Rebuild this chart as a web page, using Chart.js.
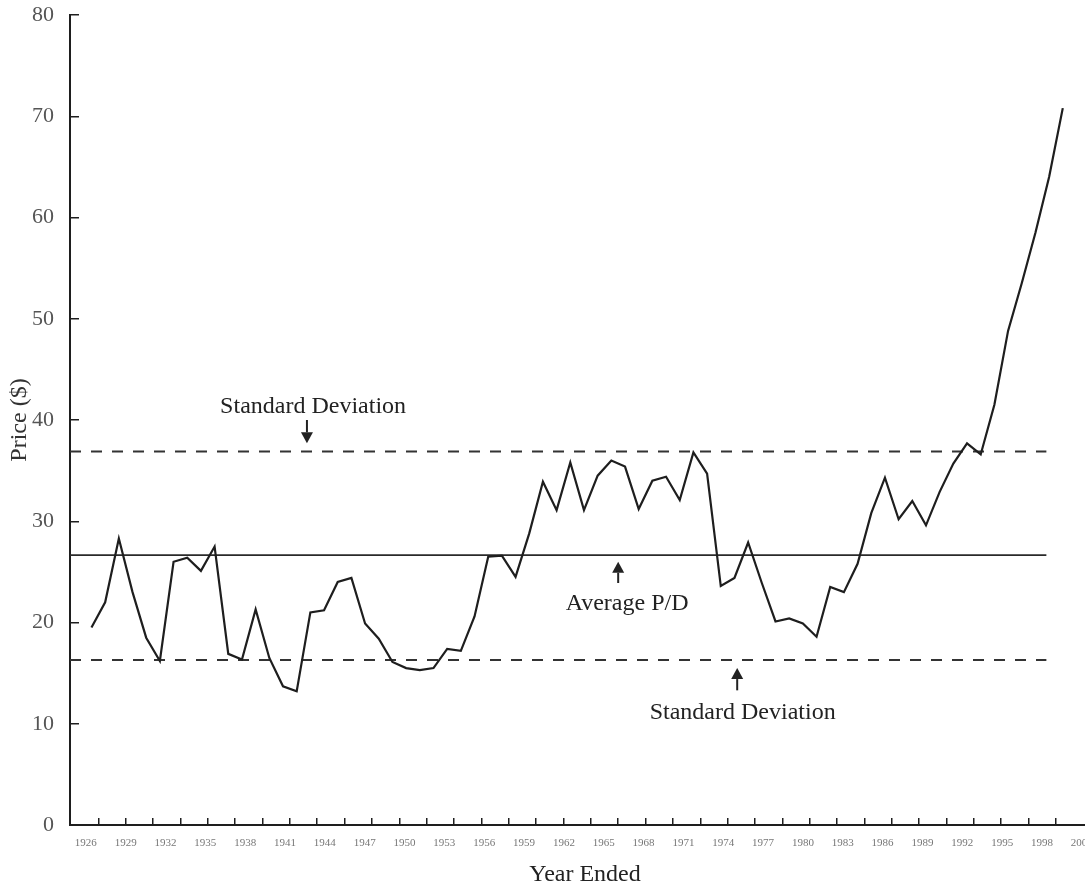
<!DOCTYPE html>
<html>
<head>
<meta charset="utf-8">
<title>Price / Dividend</title>
<script src="https://cdn.jsdelivr.net/npm/chart.js@4.4.1/dist/chart.umd.min.js"></script>
<style>
  html, body { margin:0; padding:0; overflow:hidden; background:#fff; }
  canvas { display:block; }
</style>
</head>
<body>
<canvas id="pd-canvas" width="1110" height="887"></canvas>
<script>
//----- chart values -----//
const firstYear = 1926;
const pdValues = [
  19.5, 22.0, 28.3, 23.0, 18.5, 16.2, 26.0, 26.4, 25.1, 27.5,   // 1926-1935
  16.9, 16.35,21.3, 16.5, 13.7, 13.2, 21.0, 21.2, 24.0, 24.4,   // 1936-1945
  19.9, 18.4, 16.1, 15.5, 15.3, 15.5, 17.4, 17.2, 20.6, 26.5,   // 1946-1955
  26.6, 24.5, 28.8, 33.9, 31.1, 35.8, 31.1, 34.5, 36.0, 35.4,   // 1956-1965
  31.2, 34.0, 34.4, 32.1, 36.8, 34.7, 23.6, 24.4, 27.9, 23.9,   // 1966-1975
  20.1, 20.4, 19.9, 18.6, 23.5, 23.0, 25.8, 30.8, 34.3, 30.2,   // 1976-1985
  32.0, 29.6, 32.9, 35.7, 37.7, 36.6, 41.5, 48.8, 53.5, 58.5,   // 1986-1995
  64.0, 70.8                                                    // 1996-1997
];
let years = [];
for(let i=0;i<pdValues.length;i++){
  years[i] = firstYear+i;
}
//labels printed under the axis (every 3 years)
const labelYears = [1926,1929,1932,1935,1938,1941,1944,1947,1950,1953,1956,1959,1962,
                    1965,1968,1971,1974,1977,1980,1983,1986,1989,1992,1995,1998,2001];
//small tick marks on the axis (every 2 years)
let markYears = [];
for(let i=0;i<36;i++){
  markYears[i] = 1926.5+2*i;
}
const yTicks = [0,10,20,30,40,50,60,70,80];
//reference lines
const averagePD  = 26.65;
const upperSD    = 36.9;
const lowerSD    = 16.3;
const refLineEnd = 1995.8;

//----- scale ranges -----//
const xMin = 1924.43, xMax = 1999.72;       // data axis
const lMin = 1924.81, lMax = 2002.37;       // label axis

const serif = "'Liberation Serif', 'Times New Roman', serif";
const ink   = '#1e1e1e';

let points = years.map((yr,i)=>({x:yr, y:pdValues[i]}));
function flatLine(v){
  return [{x:xMin, y:v}, {x:refLineEnd, y:v}];
}

//----- notes with arrows -----//
const notes = [
  {text:'Standard Deviation', tx:1942.2,  ty:40.7,  ax:1941.75, tail:40.0, tip:37.7},
  {text:'Average P/D',        tx:1965.15, ty:21.23, ax:1964.5,  tail:23.9, tip:26.0},
  {text:'Standard Deviation', tx:1973.6,  ty:10.47, ax:1973.2,  tail:13.3, tip:15.5}
];

const notePlugin = {
  id:'notes',
  afterDatasetsDraw(chart){
    const ctx = chart.ctx;
    const xs = chart.scales.x, ys = chart.scales.y;
    ctx.save();
    ctx.fillStyle = '#222';
    ctx.strokeStyle = '#222';
    ctx.font = '24px '+serif;
    ctx.textAlign = 'center';
    ctx.textBaseline = 'alphabetic';
    notes.forEach(n=>{
      ctx.fillText(n.text, xs.getPixelForValue(n.tx), ys.getPixelForValue(n.ty));
      //arrow
      let x  = xs.getPixelForValue(n.ax);
      let y0 = ys.getPixelForValue(n.tail);
      let y1 = ys.getPixelForValue(n.tip);
      let dir = y1>y0 ? 1 : -1;
      let head = 11;
      ctx.lineWidth = 2;
      ctx.beginPath();
      ctx.moveTo(x, y0);
      ctx.lineTo(x, y1-dir*head);
      ctx.stroke();
      ctx.beginPath();
      ctx.moveTo(x-6, y1-dir*head);
      ctx.lineTo(x+6, y1-dir*head);
      ctx.lineTo(x, y1);
      ctx.closePath();
      ctx.fill();
    });
    ctx.restore();
  }
};

//----- Create chart -----//
let canvas = document.getElementById('pd-canvas');
let pdChart = new Chart(canvas, {
  type:'line',
  data:{
    datasets:[
      {data:points, xAxisID:'x', yAxisID:'y', borderColor:ink, borderWidth:2.2, pointRadius:0, tension:0, fill:false},
      {data:flatLine(averagePD), xAxisID:'x', yAxisID:'y', borderColor:'#2a2a2a', borderWidth:1.6, pointRadius:0, fill:false},
      {data:flatLine(upperSD), xAxisID:'x', yAxisID:'y', borderColor:'#333', borderWidth:2, borderDash:[11,10], pointRadius:0, fill:false},
      {data:flatLine(lowerSD), xAxisID:'x', yAxisID:'y', borderColor:'#333', borderWidth:2, borderDash:[11,10], pointRadius:0, fill:false}
    ]
  },
  options:{
    responsive:false,
    animation:false,
    layout:{padding:{top:15, right:10, bottom:0, left:0}},
    plugins:{legend:{display:false}, tooltip:{enabled:false}},
    scales:{
      x:{
        type:'linear', axis:'x', position:'bottom', weight:0,
        min:xMin, max:xMax,
        afterBuildTicks: s=>{ s.ticks = markYears.map(v=>({value:v})); },
        afterFit: s=>{ s.height = 0; },
        ticks:{display:false},
        grid:{display:true, drawOnChartArea:false, drawTicks:true, tickLength:-7, color:ink, lineWidth:1.5},
        border:{display:true, color:ink, width:2}
      },
      xLabels:{
        type:'linear', axis:'x', position:'bottom', weight:1,
        min:lMin, max:lMax,
        afterBuildTicks: s=>{ s.ticks = labelYears.map(v=>({value:v})); },
        afterFit: s=>{ s.height = 62; },
        ticks:{autoSkip:false, maxRotation:0, padding:12, color:'#777',
               font:{family:serif, size:11}, callback: v=>String(v)},
        grid:{display:false, drawTicks:false},
        border:{display:false},
        title:{display:true, text:'Year Ended', color:'#222',
               font:{family:serif, size:24, lineHeight:1}, padding:{top:0, bottom:0}}
      },
      y:{
        type:'linear', position:'left', min:0, max:80,
        afterBuildTicks: s=>{ s.ticks = yTicks.map(v=>({value:v})); },
        afterFit: s=>{ s.width = 70; s.paddingTop = 0; s.paddingBottom = 0; },
        ticks:{padding:25, color:'#555', font:{family:serif, size:22}},
        grid:{display:true, drawOnChartArea:false, drawTicks:true, tickLength:-9, color:ink, lineWidth:1.5},
        border:{display:true, color:ink, width:2},
        title:{display:true, text:'Price ($)', color:'#333',
               font:{family:serif, size:24, lineHeight:1}, padding:{top:8, bottom:0}}
      }
    }
  },
  plugins:[notePlugin]
});
</script>
</body>
</html>
